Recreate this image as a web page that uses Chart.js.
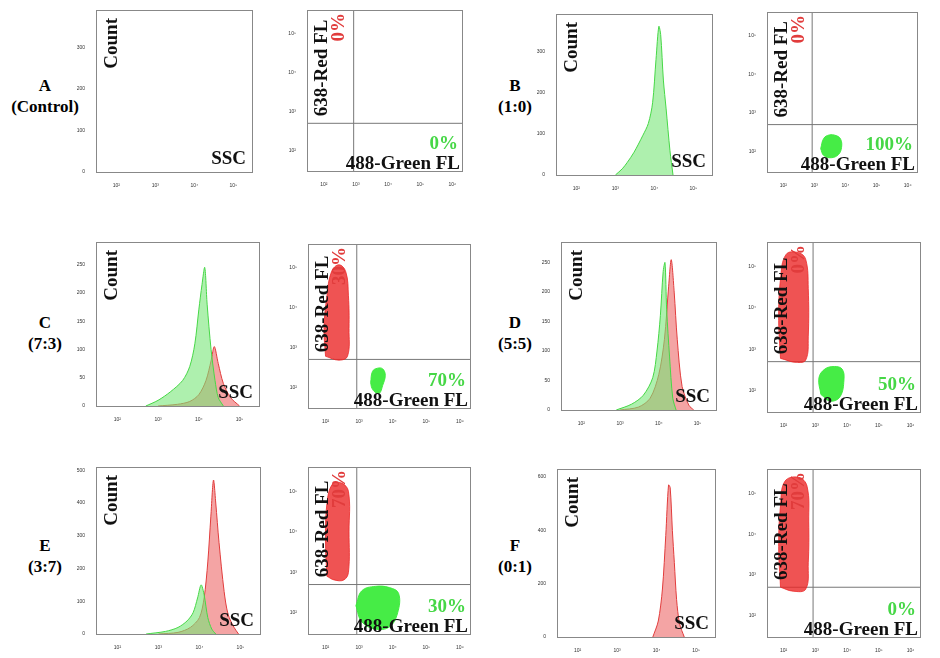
<!DOCTYPE html>
<html><head><meta charset="utf-8">
<script src="https://cdn.jsdelivr.net/npm/chart.js@4"></script>
<style>
body{margin:0;background:#fff;width:940px;height:658px;position:relative;overflow:hidden;font-family:"Liberation Serif",serif}
canvas{position:absolute}
.lab{position:absolute;font:bold 17px "Liberation Serif",serif;text-align:center;line-height:21px}
</style></head><body>
<div class="lab" style="left:0px;top:75px;width:90px">A<br>(Control)</div>
<div class="lab" style="left:480px;top:75px;width:70px">B<br>(1:0)</div>
<div class="lab" style="left:0px;top:312px;width:90px">C<br>(7:3)</div>
<div class="lab" style="left:480px;top:312px;width:70px">D<br>(5:5)</div>
<div class="lab" style="left:0px;top:535px;width:90px">E<br>(3:7)</div>
<div class="lab" style="left:480px;top:535px;width:70px">F<br>(0:1)</div>
<script>
// Histogram data [SSC, count]
const histBGreen=[[1e3,0],[1.5e3,15],[2e3,30],[3e3,55],[5e3,95],[7e3,125],[9e3,175],[1.1e4,280],[1.3e4,360],[1.45e4,340],[1.7e4,230],[2e4,160],[2.5e4,60],[3e4,0]];
const histCGreen=[[5e2,0],[1e3,10],[2e3,25],[4e3,45],[6e3,70],[8e3,110],[1e4,170],[1.2e4,215],[1.4e4,245],[1.6e4,180],[2e4,100],[2.5e4,45],[3e4,15],[4e4,0]];
const histCRed=[[1e3,0],[3e3,3],[6e3,8],[1e4,20],[1.5e4,45],[2e4,80],[2.4e4,105],[3e4,75],[4e4,40],[6e4,15],[1e5,0]];
const histDGreen=[[8e2,0],[2e3,10],[4e3,25],[7e3,55],[9e3,100],[1.1e4,160],[1.3e4,235],[1.45e4,250],[1.6e4,170],[1.9e4,90],[2.3e4,20],[2.8e4,0]];
const histDRed=[[1e3,0],[3e3,5],[6e3,20],[1e4,60],[1.4e4,120],[1.8e4,210],[2.1e4,255],[2.5e4,200],[3e4,120],[4e4,40],[6e4,8],[8e4,0]];
const histEGreen=[[5e2,0],[1.5e3,8],[3e3,20],[5e3,40],[7e3,65],[9e3,110],[1.1e4,150],[1.3e4,120],[1.6e4,50],[2e4,15],[2.5e4,0]];
const histERed=[[1e3,0],[3e3,5],[6e3,20],[1e4,50],[1.3e4,110],[1.6e4,220],[1.9e4,360],[2.2e4,470],[2.5e4,400],[3e4,280],[4e4,130],[5e4,60],[7e4,20],[9e4,0]];
const histFRed=[[8e3,0],[1.1e4,60],[1.4e4,180],[1.7e4,380],[2e4,570],[2.2e4,560],[2.5e4,400],[2.8e4,280],[3.2e4,140],[3.8e4,50],[5e4,0]];
// Scatter cloud outlines [green FL, red FL]
const cloudBGreen=[[1.6e3,120],[2e3,220],[3e3,270],[5e3,260],[7e3,210],[7.5e3,130],[6e3,85],[3.5e3,70],[2e3,80]];
const cloudCGreen=[[2.2e3,130],[2.5e3,250],[3.5e3,300],[5e3,290],[6e3,200],[5e3,110],[4e3,70],[3e3,75],[2.4e3,95]];
const cloudCRed=[[100,600],[90,3e3],[110,2e4],[150,8e4],[250,1.2e5],[400,8e4],[480,2e4],[500,3e3],[450,600],[250,480]];
const cloudDRed=[[80,600],[70,5e3],[80,5e4],[120,2e5],[300,2.2e5],[500,1.5e5],[600,3e4],[600,2e3],[500,550],[250,480]];
const cloudDGreen=[[1.5e3,80],[1.3e3,200],[2e3,330],[4e3,380],[7e3,330],[8e3,180],[6e3,70],[3e3,55]];
const cloudERed=[[110,800],[100,5e3],[110,5e4],[160,1.5e5],[300,1.6e5],[480,1e5],[500,1e4],[480,1e3],[350,650],[180,650]];
const cloudEGreen=[[800,150],[1.2e3,350],[3e3,450],[8e3,420],[1.5e4,300],[1.4e4,100],[8e3,45],[3e3,40],[1.2e3,60]];
const cloudFRed=[[80,500],[70,5e3],[80,5e4],[110,2e5],[300,2.5e5],[550,1.5e5],[620,2e4],[600,2e3],[500,450],[200,400]];
// Percentages [red, green]
const pctA=['0%','0%'],pctB=['0%','100%'],pctC=['30%','70%'],pctD=['0%','50%'],pctE=['70%','30%'],pctF=['70%','0%'];
// Count axis ticks
const ticksA=[0,100,200,300],ticksB=[0,100,200,300],ticksC=[0,50,100,150,200,250],ticksD=[0,50,100,150,200,250],ticksE=[0,100,200,300,400,500],ticksF=[0,200,400,600];
const logTicksHist=[100,1000,10000,100000];
const logTicksScatX=[100,1000,10000,100000,1000000];
const logTicksScatY=[100,1000,10000,100000];
const gateX=850, gateY=500;

const sup={'2':'²','3':'³','4':'⁴','5':'⁵','6':'⁶'};
function logLabel(v){const e=Math.round(Math.log10(v));return '10'+sup[e];}
const GREEN='rgba(120,230,120,0.6)', GREENL='rgb(70,215,70)', RED='rgba(235,90,90,0.55)', REDL='rgb(225,60,60)';
const tickFont={size:5,family:'Liberation Sans'};

const textPlugin={id:'txt',afterDraw(c){
  const o=c.options.plugins.txt, a=c.chartArea, x=c.ctx;
  x.save();x.strokeStyle='#888';x.lineWidth=1;x.strokeRect(a.left+.5,a.top+.5,a.width,a.height);
  x.font='bold 19px "Liberation Serif"';x.textBaseline='alphabetic';
  if(o.kind==='hist'){
    x.fillStyle='#111';
    x.save();x.translate(a.left+21,a.top+8);x.rotate(-Math.PI/2);x.textAlign='right';x.fillText('Count',0,0);x.restore();
    x.textAlign='right';x.fillText('SSC',a.right-6,a.bottom-8);
  } else {
    x.fillStyle='#111';
    x.save();x.translate(a.left+20,a.top+a.height*0.66);x.rotate(-Math.PI/2);x.textAlign='left';x.fillText('638-Red FL',0,0);x.restore();
    x.textAlign='right';x.fillText('488-Green FL',a.right-2,a.bottom-2);
    x.fillStyle=REDL;x.save();x.translate(a.left+37,a.top+3);x.rotate(-Math.PI/2);x.textAlign='right';x.fillText(o.pct[0],0,0);x.restore();
    x.fillStyle=GREENL;x.textAlign='right';x.fillText(o.pct[1],a.right-4,a.bottom-22);
  }
  x.restore();}};
Chart.register(textPlugin);

function pts(arr){return arr.map(p=>({x:p[0],y:p[1]}));}
function mk(rect,kind,datasets,opts){
  const [L,T,W,H]=rect;
  const cv=document.createElement('canvas');
  cv.style.left=(L-24)+'px';cv.style.top=(T-4)+'px';cv.style.width=(W+30)+'px';cv.style.height=(H+22)+'px';
  cv.width=W+30;cv.height=H+22;document.body.appendChild(cv);
  const xs={type:'logarithmic',min:opts.xmin,max:opts.xmax,grid:{display:false},border:{display:false},
    afterFit:s=>{s.height=16},afterBuildTicks:s=>{s.ticks=opts.xt.map(v=>({value:v}))},
    ticks:{font:tickFont,color:'#333',callback:v=>logLabel(v),autoSkip:false,maxRotation:0}};
  const ys=kind==='hist'?{type:'linear',min:0,max:opts.ymax,grid:{display:false},border:{display:false},
    afterFit:s=>{s.width=24},afterBuildTicks:s=>{s.ticks=opts.yt.map(v=>({value:v}))},ticks:{font:tickFont,color:'#333',autoSkip:false}}
   :{type:'logarithmic',min:30,max:4e5,grid:{display:false},border:{display:false},
    afterFit:s=>{s.width=24},afterBuildTicks:s=>{s.ticks=opts.yt.map(v=>({value:v}))},ticks:{font:tickFont,color:'#333',callback:v=>logLabel(v),autoSkip:false}};
  new Chart(cv,{type:'line',data:{datasets},options:{responsive:false,animation:false,
    layout:{padding:{left:0,top:4,right:6,bottom:2}},
    elements:{point:{radius:0}},
    plugins:{legend:{display:false},tooltip:{enabled:false},txt:{kind,pct:opts.pct}},
    scales:{x:xs,y:ys}}});
}
function hd(arr,fill,line){return {data:pts(arr),backgroundColor:fill,borderColor:line,borderWidth:1,fill:'origin',tension:0.3};}
function cd(arr,col){return {data:pts(arr.concat([arr[0]])),backgroundColor:col,borderColor:col,borderWidth:1,fill:'shape',tension:0.4};}
function gates(){return [
  {data:[{x:gateX,y:30},{x:gateX,y:4e5}],borderColor:'#777',borderWidth:1,fill:false},
  {data:[{x:30,y:gateY},{x:2e6,y:gateY}],borderColor:'#777',borderWidth:1,fill:false}];}
const H={xmin:30,xmax:3e5,xt:logTicksHist};
const S={xmin:30,xmax:2e6,xt:logTicksScatX,yt:logTicksScatY};
const REDC='rgba(235,40,40,0.8)',GREENC='rgba(60,235,60,0.95)';

mk([96,8,156,164],'hist',[],{...H,ymax:390,yt:ticksA});
mk([307,8,155,163],'scat',gates(),{...S,pct:pctA});
mk([556,12,156,163],'hist',[hd(histBGreen,GREEN,GREENL)],{...H,ymax:390,yt:ticksB});
mk([767,10,150,162],'scat',[cd(cloudBGreen,GREENC),...gates()],{...S,pct:pctB});

mk([96,240,163,166],'hist',[hd(histCGreen,GREEN,GREENL),hd(histCRed,RED,REDL)],{...H,ymax:290,yt:ticksC});
mk([308,242,162,166],'scat',[cd(cloudCRed,REDC),cd(cloudCGreen,GREENC),...gates()],{...S,pct:pctC});
mk([561,240,155,170],'hist',[hd(histDGreen,GREEN,GREENL),hd(histDRed,RED,REDL)],{...H,ymax:285,yt:ticksD});
mk([767,240,153,172],'scat',[cd(cloudDRed,REDC),cd(cloudDGreen,GREENC),...gates()],{...S,pct:pctD});

mk([96,465,164,169],'hist',[hd(histEGreen,GREEN,GREENL),hd(histERed,RED,REDL)],{...H,ymax:510,yt:ticksE});
mk([308,465,162,169],'scat',[cd(cloudERed,REDC),cd(cloudEGreen,GREENC),...gates()],{...S,pct:pctE});
mk([557,467,158,170],'hist',[hd(histFRed,RED,REDL)],{...H,ymax:630,yt:ticksF});
mk([767,467,153,170],'scat',[cd(cloudFRed,REDC),...gates()],{...S,pct:pctF});
</script></body></html>
